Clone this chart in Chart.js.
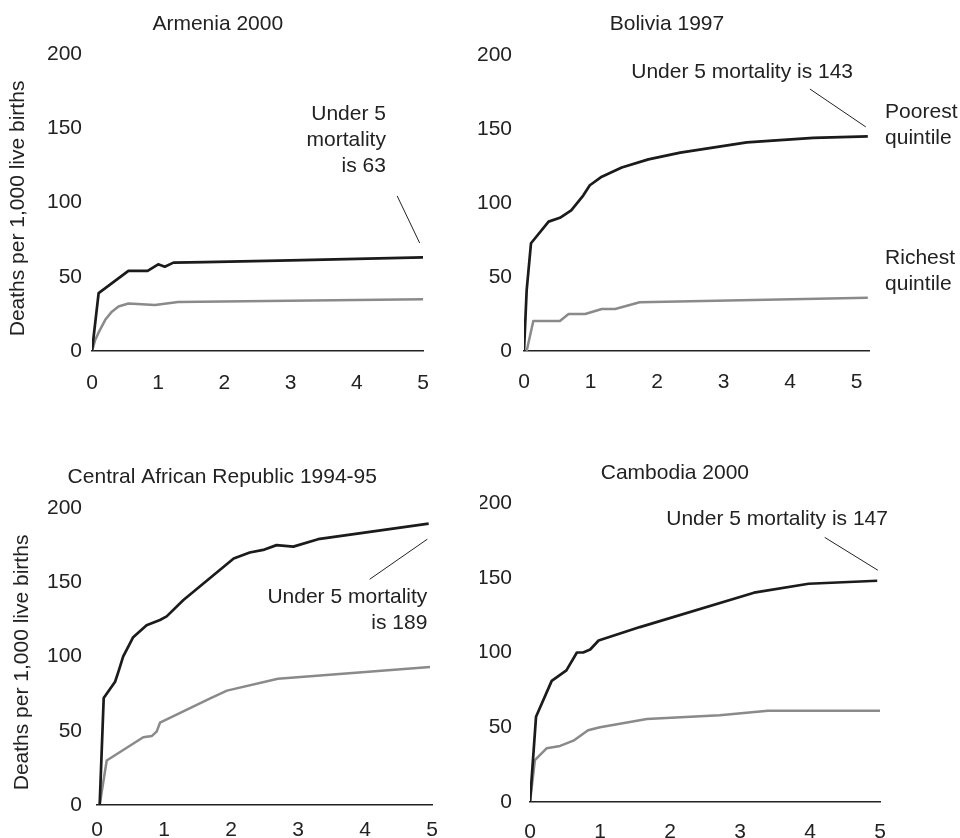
<!DOCTYPE html>
<html>
<head>
<meta charset="utf-8">
<title>Under 5 mortality by wealth quintile</title>
<script src="https://cdn.jsdelivr.net/npm/chart.js@4/dist/chart.umd.min.js"></script>
<style>
    body { margin: 0; background: #fff; width: 960px; height: 838px; overflow: hidden; position: relative; }
    canvas { position: absolute; left: 0; top: 0; }
</style>
</head>
<body>
<canvas id="armenia" width="960" height="838"></canvas>
<canvas id="bolivia" width="960" height="838"></canvas>
<canvas id="car" width="960" height="838"></canvas>
<canvas id="cambodia" width="960" height="838"></canvas>
<script>
// Tick labels
const ageTicks = [0, 1, 2, 3, 4, 5];
const rateTicks = [0, 50, 100, 150, 200];

// Armenia 2000 (age in years, deaths per 1,000 live births)
const armeniaPoorAge = [0, 0.1, 0.55, 0.84, 1.0, 1.1, 1.23, 1.7, 3, 5];
const armeniaPoorRate = [0, 39, 54, 54, 58.4, 56.8, 59.5, 59.8, 61, 63];
const armeniaRichAge = [0, 0.02, 0.045, 0.095, 0.2, 0.3, 0.4, 0.55, 0.95, 1.3, 5];
const armeniaRichRate = [0, 3, 7, 12, 21, 26.5, 30, 32, 31, 33, 34.8];

// Bolivia 1997
const boliviaPoorAge = [0, 0.04, 0.105, 0.37, 0.54, 0.71, 0.89, 0.99, 1.17, 1.47, 1.87, 2.35, 3.35, 4.35, 5.17];
const boliviaPoorRate = [0, 41, 72.8, 87.4, 90, 95, 105, 112, 117.8, 124, 129.5, 134, 141, 144, 145];
const boliviaRichAge = [0.04, 0.14, 0.54, 0.67, 0.92, 1.17, 1.37, 1.74, 5.17];
const boliviaRichRate = [0, 20.3, 20.3, 25, 25, 28.4, 28.4, 32.9, 36];

// Central African Republic 1994-95
const carPoorAge = [0.04, 0.1, 0.27, 0.32, 0.39, 0.54, 0.74, 0.94, 1.04, 1.29, 2.04, 2.28, 2.5, 2.68, 2.93, 3.3, 4.95];
const carPoorRate = [0, 72, 83, 89.8, 99.9, 113, 121, 124.6, 127, 138, 166, 170, 172, 175, 174, 179, 189.5];
const carRichAge = [0.04, 0.145, 0.69, 0.82, 0.89, 0.94, 1.69, 1.94, 2.7, 4.97];
const carRichRate = [0, 30, 45.6, 46.5, 49.4, 55.4, 71.8, 77, 85, 93];

// Cambodia 2000
const cambodiaPoorAge = [0, 0.086, 0.31, 0.52, 0.67, 0.76, 0.86, 0.98, 1.57, 3.2, 3.98, 4.96];
const cambodiaPoorRate = [0, 57, 81, 88, 100, 100, 102, 108, 117, 140, 146, 148];
const cambodiaRichAge = [0, 0.07, 0.24, 0.43, 0.62, 0.83, 1.0, 1.67, 2.71, 3.4, 5.0];
const cambodiaRichRate = [0, 28, 36, 37.5, 41, 48, 50, 55.5, 58, 61, 61];

const FONT = "'Liberation Sans', Arial, Helvetica, sans-serif";
const TEXT = '#222222';
const Y_W = 50;

function toPoints(ages, rates) {
    return ages.map((a, i) => ({ x: a, y: rates[i] }));
}

function drawNotes(chart, p) {
    const ctx = chart.ctx;
    const x = chart.scales.x;
    const y = chart.scales.y;
    ctx.save();
    ctx.font = '21px ' + FONT;
    ctx.fillStyle = TEXT;
    ctx.textBaseline = 'middle';

    // panel title
    ctx.textAlign = 'center';
    ctx.fillText(p.title, x.getPixelForValue(p.titleAt[0]), y.getPixelForValue(p.titleAt[1]));

    // text notes
    p.notes.forEach(n => {
        ctx.textAlign = n.align;
        n.lines.forEach((t, i) => {
            ctx.fillText(t, x.getPixelForValue(n.at[0]), y.getPixelForValue(n.at[1]) + i * 26);
        });
    });

    // leader lines
    ctx.strokeStyle = TEXT;
    ctx.lineWidth = 1;
    p.leaders.forEach(l => {
        ctx.beginPath();
        ctx.moveTo(x.getPixelForValue(l[0]), y.getPixelForValue(l[1]));
        ctx.lineTo(x.getPixelForValue(l[2]), y.getPixelForValue(l[3]));
        ctx.stroke();
    });

    // y axis title, left panels only
    if (p.yTitle) {
        ctx.translate(chart.chartArea.left - p.yTitleGap, y.getPixelForValue(96));
        ctx.rotate(-Math.PI / 2);
        ctx.textAlign = 'center';
        ctx.fillText('Deaths per 1,000 live births', 0, 0);
    }
    ctx.restore();
}

function buildPanel(p) {
    const tickFont = { family: FONT, size: 21 };
    return new Chart(document.getElementById(p.id), {
        type: 'line',
        data: {
            datasets: [
                {
                    label: 'Poorest quintile',
                    data: toPoints(p.poorAge, p.poorRate),
                    borderColor: '#1b1b1b',
                    borderWidth: 2.7,
                    pointRadius: 0,
                    tension: 0,
                    borderJoinStyle: 'round'
                },
                {
                    label: 'Richest quintile',
                    data: toPoints(p.richAge, p.richRate),
                    borderColor: '#8a8a8a',
                    borderWidth: 2.5,
                    pointRadius: 0,
                    tension: 0,
                    borderJoinStyle: 'round'
                }
            ]
        },
        options: {
            responsive: false,
            animation: false,
            events: [],
            layout: {
                padding: {
                    left: p.area.left - Y_W,
                    top: p.area.top,
                    right: 960 - p.area.right,
                    bottom: 838 - p.area.bottom - p.xH
                }
            },
            plugins: {
                legend: { display: false },
                tooltip: { enabled: false }
            },
            scales: {
                x: {
                    type: 'linear',
                    min: 0,
                    max: p.xMax,
                    afterFit: s => { s.height = p.xH; },
                    afterBuildTicks: s => { s.ticks = ageTicks.map(v => ({ value: v })); },
                    grid: { display: false, drawTicks: false },
                    border: { display: true, color: TEXT, width: 1.6 },
                    ticks: { padding: p.xPad, font: tickFont, color: TEXT, maxRotation: 0, autoSkip: false }
                },
                y: {
                    type: 'linear',
                    min: 0,
                    max: 200,
                    afterFit: s => { s.width = Y_W; },
                    afterBuildTicks: s => { s.ticks = rateTicks.map(v => ({ value: v })); },
                    grid: { display: false, drawTicks: false },
                    border: { display: false },
                    ticks: { padding: p.yPad, font: tickFont, color: TEXT }
                }
            }
        },
        plugins: [{ id: 'notes', afterDraw: chart => drawNotes(chart, p) }]
    });
}

document.addEventListener('DOMContentLoaded', function() {
    buildPanel({
        id: 'armenia',
        title: 'Armenia 2000',
        titleAt: [1.9, 220],
        area: { left: 92, top: 54, right: 423, bottom: 351 },
        xMax: 5, xH: 50, xPad: 20, yPad: 10,
        yTitle: true, yTitleGap: 74,
        poorAge: armeniaPoorAge, poorRate: armeniaPoorRate,
        richAge: armeniaRichAge, richRate: armeniaRichRate,
        notes: [{ lines: ['Under 5', 'mortality', 'is 63'], at: [4.44, 159.6], align: 'right' }],
        leaders: [[4.61, 104.4, 4.95, 72.7]]
    });

    buildPanel({
        id: 'bolivia',
        title: 'Bolivia 1997',
        titleAt: [2.15, 221],
        area: { left: 524, top: 55, right: 869.8, bottom: 351 },
        xMax: 5.2, xH: 50, xPad: 19, yPad: 12,
        yTitle: false,
        poorAge: boliviaPoorAge, poorRate: boliviaPoorRate,
        richAge: boliviaRichAge, richRate: boliviaRichRate,
        notes: [
            { lines: ['Under 5 mortality is 143'], at: [3.28, 188.5], align: 'center' },
            { lines: ['Poorest', 'quintile'], at: [5.43, 161.5], align: 'left' },
            { lines: ['Richest', 'quintile'], at: [5.43, 62.8], align: 'left' }
        ],
        leaders: [[4.3, 177, 5.14, 151.4]]
    });

    buildPanel({
        id: 'car',
        title: 'Central African Republic 1994-95',
        titleAt: [1.87, 220.9],
        area: { left: 97, top: 508, right: 432, bottom: 805 },
        xMax: 5, xH: 33, xPad: 13, yPad: 15,
        yTitle: true, yTitleGap: 75,
        poorAge: carPoorAge, poorRate: carPoorRate,
        richAge: carRichAge, richRate: carRichRate,
        notes: [{ lines: ['Under 5 mortality', 'is 189'], at: [4.93, 140], align: 'right' }],
        leaders: [[4.07, 152, 4.93, 179]]
    });

    buildPanel({
        id: 'cambodia',
        title: 'Cambodia 2000',
        titleAt: [2.07, 220],
        area: { left: 530, top: 503, right: 880, bottom: 802 },
        xMax: 5, xH: 36, xPad: 18, yPad: 18,
        yTitle: false,
        poorAge: cambodiaPoorAge, poorRate: cambodiaPoorRate,
        richAge: cambodiaRichAge, richRate: cambodiaRichRate,
        notes: [{ lines: ['Under 5 mortality is 147'], at: [3.53, 189], align: 'center' }],
        leaders: [[4.21, 177, 4.97, 155]]
    });
});
</script>
</body>
</html>
